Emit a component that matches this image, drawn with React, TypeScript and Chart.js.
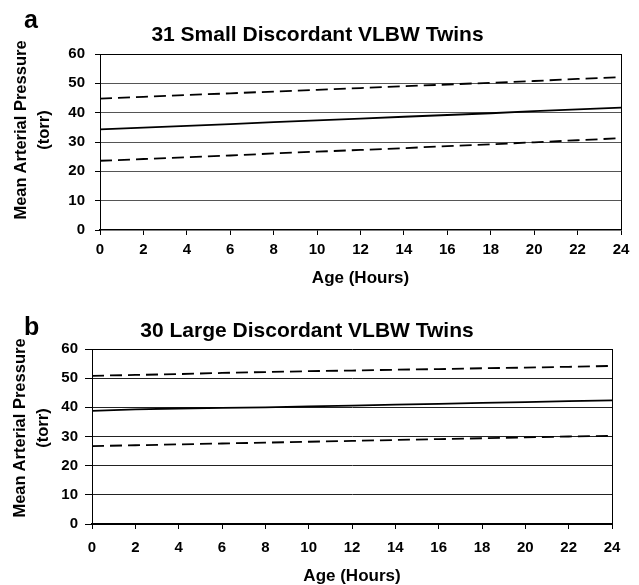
import React, { useEffect, useRef } from "react";
import { Chart, registerables } from "chart.js";

Chart.register(...registerables);

// ---- data ----
const HOURS = [0, 2, 4, 6, 8, 10, 12, 14, 16, 18, 20, 22, 24];

const A_UPPER = [44.8, 45.4, 46.0, 46.6, 47.2, 47.8, 48.4, 49.0, 49.6, 50.2, 50.8, 51.5, 52.1];
const A_MEAN = [34.3, 34.9, 35.5, 36.1, 36.8, 37.4, 38.0, 38.6, 39.2, 39.8, 40.5, 41.1, 41.7];
const A_LOWER = [23.6, 24.2, 24.8, 25.4, 26.1, 26.7, 27.3, 27.9, 28.6, 29.2, 29.9, 30.6, 31.3];

const B_UPPER = [50.8, 51.1, 51.4, 51.8, 52.1, 52.4, 52.6, 52.9, 53.1, 53.4, 53.6, 53.9, 54.2];
const B_MEAN = [38.8, 39.3, 39.6, 39.8, 40.0, 40.3, 40.6, 40.9, 41.2, 41.5, 41.8, 42.1, 42.4];
const B_LOWER = [26.7, 27.0, 27.3, 27.6, 27.9, 28.2, 28.5, 28.8, 29.1, 29.4, 29.7, 30.0, 30.2];

const TITLE_A = "31 Small Discordant VLBW Twins";
const TITLE_B = "30 Large Discordant VLBW Twins";
const LABEL_A = "a";
const LABEL_B = "b";
const Y_TITLE = ["Mean Arterial Pressure", "(torr)"];
const X_TITLE = "Age (Hours)";
const Y_MIN = 0;
const Y_MAX = 60;
const Y_STEP = 10;
const X_MIN = 0;
const X_MAX = 24;
const X_STEP = 2;

const FONT = "'Liberation Sans', Arial, Helvetica, sans-serif";

type PanelProps = {
  upper: number[];
  mean: number[];
  lower: number[];
  height: number;
  padTop: number;
  padRight: number;
  yAxisWidth: number;
  xAxisHeight: number;
  gridColor: string;
  axisWidth: number;
  xTickPad: number;
  yTickPad: number;
  yTickLen: number;
  xTitlePad: number;
};

function Panel(p: PanelProps) {
  const ref = useRef<HTMLCanvasElement>(null);
  useEffect(() => {
    const toPts = (arr: number[]) => HOURS.map((h, i) => ({ x: h, y: arr[i] }));
    const ds = (arr: number[], dashed: boolean) => ({
      data: toPts(arr),
      borderColor: "#000",
      borderWidth: 1.8,
      borderDash: dashed ? [12, 6] : [],
      pointRadius: 0,
      fill: false,
      tension: 0,
    });
    const chart = new Chart(ref.current as HTMLCanvasElement, {
      type: "line",
      data: { datasets: [ds(p.upper, true), ds(p.mean, false), ds(p.lower, true)] as any },
      options: {
        animation: false,
        responsive: false,
        maintainAspectRatio: false,
        layout: { padding: { top: p.padTop, right: p.padRight, left: 0, bottom: 0 } },
        plugins: {
          legend: { display: false },
          tooltip: { enabled: false },
          title: { display: false },
        },
        scales: {
          x: {
            type: "linear",
            min: X_MIN,
            max: X_MAX,
            ticks: {
              stepSize: X_STEP,
              color: "#000",
              font: { family: FONT, size: 15, weight: "bold" },
              padding: p.xTickPad,
              maxRotation: 0,
              autoSkip: false,
            },
            grid: {
              color: (c: any) => (c.tick && c.tick.value === X_MAX ? "#000" : "rgba(0,0,0,0)"),
              tickColor: "#000",
              tickLength: 5,
              lineWidth: 1,
            },
            border: { color: "#000", width: p.axisWidth },
            title: {
              display: true,
              text: X_TITLE,
              color: "#000",
              font: { family: FONT, size: 17, weight: "bold" },
              padding: { top: 0, bottom: p.xTitlePad },
            },
            afterFit: (s: any) => {
              s.height = p.xAxisHeight;
            },
          },
          y: {
            min: Y_MIN,
            max: Y_MAX,
            ticks: {
              stepSize: Y_STEP,
              color: "#000",
              font: { family: FONT, size: 15, weight: "bold" },
              padding: p.yTickPad,
            },
            grid: {
              color: (c: any) => {
                const v = c.tick ? c.tick.value : null;
                if (v === Y_MAX) return "#000";
                if (v === Y_MIN) return "rgba(0,0,0,0)";
                return p.gridColor;
              },
              tickColor: "#000",
              tickLength: p.yTickLen,
              lineWidth: 1,
            },
            border: { color: "#000", width: 1 },
            title: { display: false },
            afterFit: (s: any) => {
              s.width = p.yAxisWidth;
            },
          },
        },
      } as any,
    });
    return () => chart.destroy();
  }, []);
  return (
    <canvas
      ref={ref}
      width={639}
      height={p.height}
      style={{ display: "block", width: 639, height: p.height }}
    />
  );
}

const textStyle = (extra: React.CSSProperties): React.CSSProperties => ({
  position: "absolute",
  fontFamily: FONT,
  fontWeight: "bold",
  color: "#000",
  whiteSpace: "nowrap",
  ...extra,
});

function YTitle({ cx1, cx2, cy }: { cx1: number; cx2: number; cy: number }) {
  const rot = (cx: number, text: string) => (
    <div
      style={textStyle({
        left: cx,
        top: cy,
        fontSize: 16.5,
        lineHeight: "20px",
        transform: "translate(-50%, -50%) rotate(-90deg)",
      })}
    >
      {text}
    </div>
  );
  return (
    <>
      {rot(cx1, Y_TITLE[0])}
      {rot(cx2, Y_TITLE[1])}
    </>
  );
}

export default function App() {
  return (
    <div
      style={{
        position: "absolute",
        left: 0,
        top: 0,
        width: 639,
        height: 585,
        background: "#fff",
        overflow: "hidden",
      }}
    >
      <div style={{ position: "absolute", left: 0, top: 0 }}>
        <Panel
          upper={A_UPPER}
          mean={A_MEAN}
          lower={A_LOWER}
          height={290}
          padTop={54}
          padRight={18}
          yAxisWidth={100}
          xAxisHeight={60}
          gridColor="#555"
          axisWidth={1.5}
          xTickPad={6}
          yTickPad={10}
          yTickLen={5}
          xTitlePad={1}
        />
      </div>
      <div style={{ position: "absolute", left: 0, top: 292 }}>
        <Panel
          upper={B_UPPER}
          mean={B_MEAN}
          lower={B_LOWER}
          height={293}
          padTop={57}
          padRight={27}
          yAxisWidth={92}
          xAxisHeight={61}
          gridColor="#222"
          axisWidth={2}
          xTickPad={10}
          yTickPad={7}
          yTickLen={7}
          xTitlePad={-2}
        />
      </div>
      <YTitle cx1={20} cx2={43} cy={130} />
      <YTitle cx1={19} cx2={42} cy={428} />
      <div style={textStyle({ left: 24, top: 5, fontSize: 25, lineHeight: "28px" })}>{LABEL_A}</div>
      <div style={textStyle({ left: 0, width: 635, top: 22, fontSize: 21, lineHeight: "24px", textAlign: "center" })}>
        {TITLE_A}
      </div>
      <div style={textStyle({ left: 24, top: 312, fontSize: 25, lineHeight: "28px" })}>{LABEL_B}</div>
      <div style={textStyle({ left: 0, width: 614, top: 318, fontSize: 21, lineHeight: "24px", textAlign: "center" })}>
        {TITLE_B}
      </div>
    </div>
  );
}
